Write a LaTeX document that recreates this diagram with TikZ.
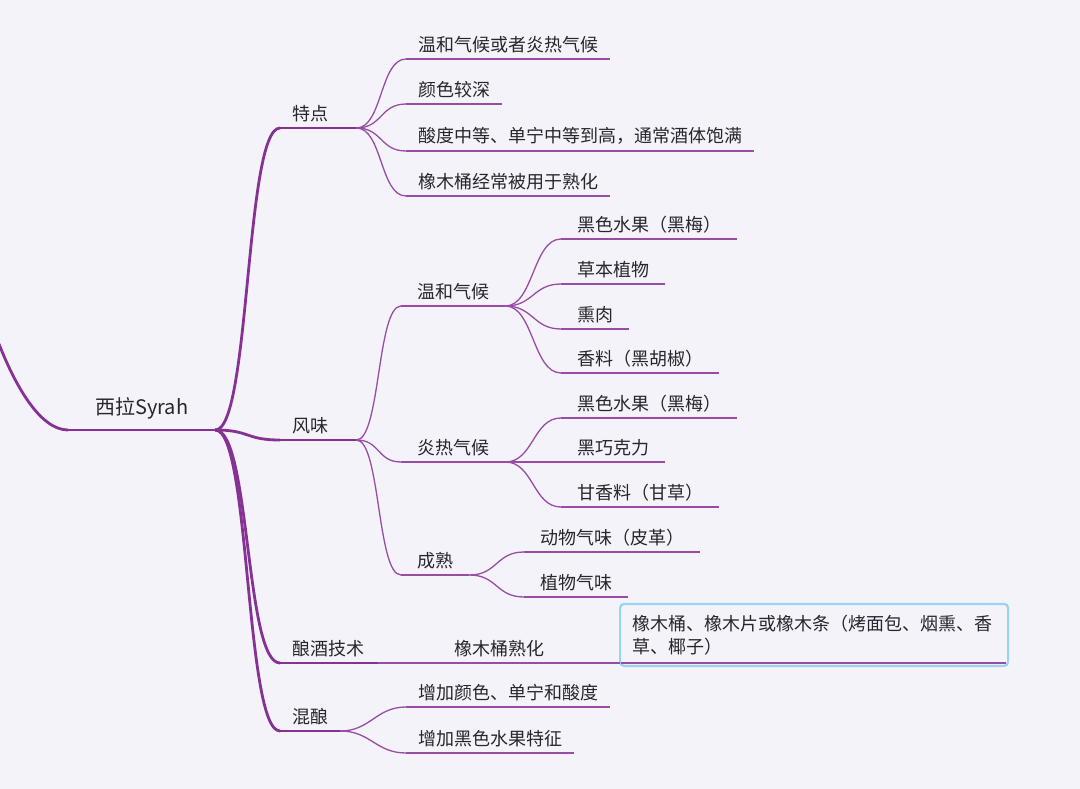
\documentclass[tikz,border=0pt]{standalone}
\usepackage{fontspec}
\setmainfont{Noto Sans CJK SC}
\usepackage{tikz}
\usetikzlibrary{calc}
\usetikzlibrary{positioning}
\definecolor{bgcol}{RGB}{244,243,249}
\definecolor{trunkcol}{RGB}{134,50,148}
\definecolor{twigcol}{RGB}{152,76,165}
\definecolor{inkcol}{RGB}{38,38,48}
\definecolor{boxcol}{RGB}{150,212,240}

\begin{document}
\begin{tikzpicture}[x=1pt, y=-1pt,
    topic/.style={
            anchor=south west,
            inner ysep=6pt,
            text=inkcol,
            font=\fontsize{18}{23}\selectfont
        },
        central/.style={
            topic,
            inner xsep=27pt,
            inner ysep=11pt,
            font=\fontsize{20}{24}\selectfont
        },
        mainbranch/.style={topic, inner xsep=12pt, align=left},
        leaf/.style={topic, inner xsep=12pt},
        subleaf/.style={topic, inner xsep=16pt},
        notebox/.style={
            topic,
            draw=boxcol,
            line width=2.2pt,
            rounded corners=4pt,
            inner xsep=12pt,
            text width=364pt,
            minimum height=62pt,
            align=left
        },
        trunk/.style={draw=trunkcol, line width=2.8pt, line cap=round},
        twig/.style={draw=twigcol, line width=1.3pt}
]

    \useasboundingbox (0,0) rectangle (1080,789);
    \fill[bgcol] (0,0) rectangle (1080,789);

    \node [central] (root) at (68,430) {西拉Syrah};
    \coordinate (offpage) at (-1,344);

    \node [mainbranch, text width=52pt] (feat) at (280,128) {特点};
    \node [mainbranch, text width=52pt] (flav) at (280,440) {风味};
    \node [mainbranch, text width=74pt] (brew) at (280,663) {酿酒技术};
    \node [mainbranch, text width=36pt] (blend) at (280,731) {混酿};

    % 特点
    \node [leaf] (feat1) at (406,59) {温和气候或者炎热气候};
    \node [leaf] (feat2) at (406,104) {颜色较深};
    \node [leaf] (feat3) at (406,151) {酸度中等、单宁中等到高，通常酒体饱满};
    \node [leaf] (feat4) at (406,196) {橡木桶经常被用于熟化};

    % 风味
    \node [subleaf] (mild) at (401,306) {温和气候};
    \node [subleaf] (hot) at (401,462) {炎热气候};
    \node [subleaf] (ripe) at (401,575) {成熟};

    \node [subleaf] (mild1) at (561,239) {黑色水果（黑梅）};
    \node [subleaf] (mild2) at (561,284) {草本植物};
    \node [subleaf] (mild3) at (561,329) {熏肉};
    \node [subleaf] (mild4) at (561,373) {香料（黑胡椒）};

    \node [subleaf] (hot1) at (561,418) {黑色水果（黑梅）};
    \node [subleaf] (hot2) at (561,462) {黑巧克力};
    \node [subleaf] (hot3) at (561,507) {甘香料（甘草）};

    \node [subleaf] (ripe1) at (524,552) {动物气味（皮革）};
    \node [subleaf] (ripe2) at (524,597) {植物气味};

    % 酿酒技术
    \node [topic, minimum width=242pt] (oak) at (378,663) {橡木桶熟化};
    \node [notebox] (oakbox) at (619,667) {橡木桶、橡木片或橡木条（烤面包、烟熏、香\\草、椰子）};

    % 混酿
    \node [leaf] (blend1) at (406,707) {增加颜色、单宁和酸度};
    \node [leaf] (blend2) at (406,753) {增加黑色水果特征};

    % underlines
    \draw [trunk] (root.south west) -- (root.south east);
    \foreach \n in {feat,flav,brew,blend}
        \draw [trunk] (\n.south west) -- (\n.south east);
    \foreach \n in {feat1,feat2,feat3,feat4,mild,hot,ripe,mild1,mild2,mild3,mild4,hot1,hot2,hot3,ripe1,ripe2,oak,blend1,blend2}
        \draw [twig] (\n.south west) -- (\n.south east);
    \draw [twig] ([xshift=2pt,yshift=4pt]oakbox.south west) -- ([xshift=-3pt,yshift=4pt]oakbox.south east);

    % branches
    \draw [trunk] (offpage) .. controls (15,385) and (40,430) .. (root.south west);
    \foreach \n in {feat,flav,brew,blend}
        \draw [trunk] (root.south east) .. controls +(35,0) and +(-35,0) .. (\n.south west);
    \foreach \i in {1,...,4}
        \draw [twig] (feat.south east) .. controls +(26,0) and +(-26,0) .. (feat\i.south west);
    \foreach \n in {mild,hot,ripe}
        \draw [twig] (flav.south east) .. controls +(24,0) and +(-24,0) .. (\n.south west);
    \foreach \i in {1,...,4}
        \draw [twig] (mild.south east) .. controls +(28,0) and +(-28,0) .. (mild\i.south west);
    \foreach \i in {1,...,3}
        \draw [twig] (hot.south east) .. controls +(28,0) and +(-28,0) .. (hot\i.south west);
    \foreach \i in {1,2}
        \draw [twig] (ripe.south east) .. controls +(28,0) and +(-28,0) .. (ripe\i.south west);
    \draw [twig] (brew.south east) -- (oak.south west);
    \foreach \i in {1,2}
        \draw [twig] (blend.south east) .. controls +(30,0) and +(-30,0) .. (blend\i.south west);
\end{tikzpicture}
\end{document}
